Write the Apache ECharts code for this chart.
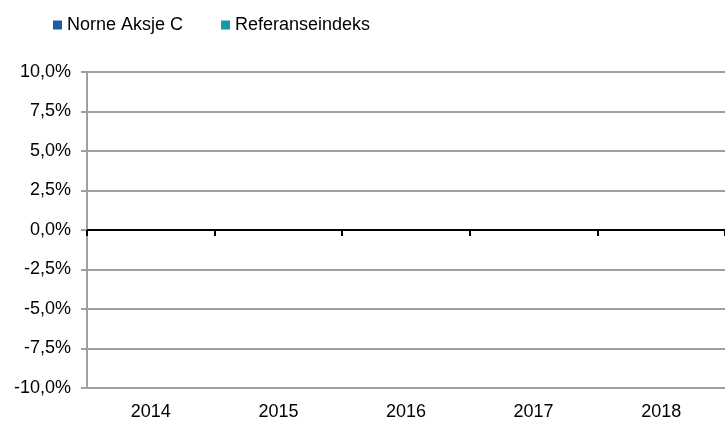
<!DOCTYPE html>
<html>
<head>
<meta charset="utf-8">
<script src="https://cdn.jsdelivr.net/npm/echarts@6/dist/echarts.min.js"></script>
<style>
  html, body { margin: 0; padding: 0; background: #fff; }
  #chart { width: 725px; height: 421px; }
</style>
</head>
<body>
<div id="chart"></div>
<script>
/* Empty annual return chart: fund vs reference index, no values reported. */
const years = ["2014", "2015", "2016", "2017", "2018"];
const norneAksjeC = [null, null, null, null, null];
const referanseindeks = [null, null, null, null, null];
const FONT = "Liberation Sans";

const pct = (v) => v.toFixed(1).replace(".", ",") + "%";

echarts.init(document.getElementById("chart")).setOption({
  animation: false,
  textStyle: { fontFamily: FONT },
  legend: {
    left: 48, top: 11, icon: "rect", itemWidth: 9, itemHeight: 9, itemGap: 38,
    textStyle: { fontFamily: FONT, fontSize: 18, color: "#000" },
    data: ["Norne Aksje C", "Referanseindeks"],
  },
  grid: { left: 87, right: 0, top: 72, bottom: 31 },
  xAxis: [
    { type: "category", data: years, position: "bottom",
      axisLine: { show: false, onZero: false }, axisTick: { show: false },
      axisLabel: { fontSize: 18, color: "#000", margin: 15 } },
    { type: "category", data: years, position: "bottom",
      axisLine: { onZero: true, lineStyle: { color: "#000", width: 2 } },
      axisTick: { show: true, inside: false, length: 6, lineStyle: { color: "#000", width: 2 } },
      axisLabel: { show: false } },
  ],
  yAxis: {
    type: "value", min: -10, max: 10, interval: 2.5,
    axisLine: { show: true, lineStyle: { color: "#a0a0a0", width: 2 } },
    axisTick: { show: true, length: 6, lineStyle: { color: "#a0a0a0", width: 2 } },
    splitLine: { lineStyle: { color: "#a0a0a0", width: 2 } },
    axisLabel: { fontSize: 18, color: "#000", margin: 16, formatter: pct },
  },
  series: [
    { name: "Norne Aksje C", type: "bar", data: norneAksjeC, itemStyle: { color: "#1c5fa5" } },
    { name: "Referanseindeks", type: "bar", data: referanseindeks, itemStyle: { color: "#1797aa" } },
  ],
});
</script>
</body>
</html>
